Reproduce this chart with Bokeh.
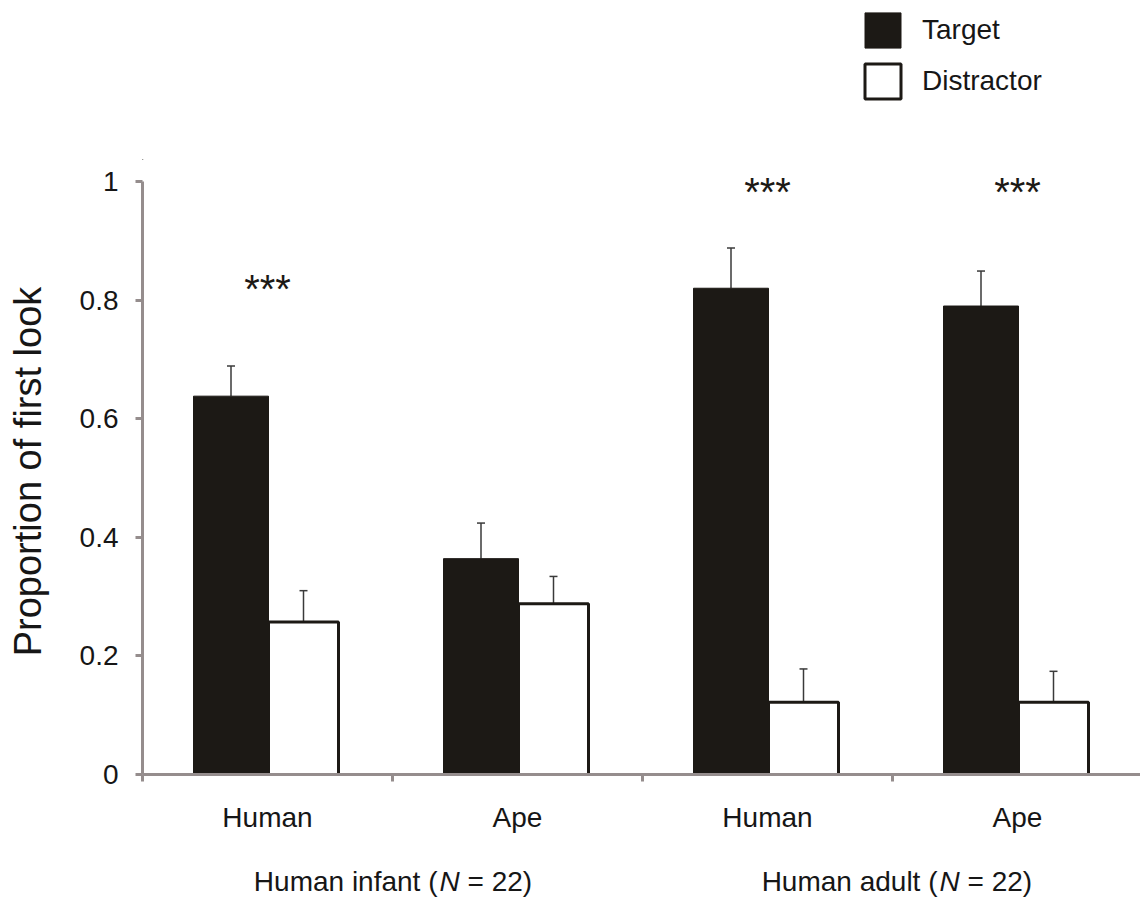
import numpy as np
from bokeh.plotting import figure
from bokeh.layouts import column
from bokeh.models import (ColumnDataSource, Range1d, FixedTicker, Whisker, TeeHead,
                          Legend, LegendItem, LinearAxis)
from bokeh.core.properties import value
from bokeh.embed import file_html
from bokeh.resources import INLINE

# ---------------- data ----------------
stimuli = ["Human", "Ape", "Human", "Ape"]
groups = ["Human infant", "Human adult"]
group_n = [22, 22]
target = [0.638, 0.364, 0.820, 0.790]
target_se = [0.051, 0.060, 0.068, 0.059]
distractor = [0.257, 0.288, 0.122, 0.122]
distractor_se = [0.053, 0.046, 0.056, 0.052]
significance = ["***", "", "***", "***"]
sig_level = [0.818, 0.0, 0.982, 0.982]
series = ["Target", "Distractor"]
y_ticks = [0, 0.2, 0.4, 0.6, 0.8, 1]
y_tick_labels = ["0", "0.2", "0.4", "0.6", "0.8", "1"]

# ---------------- style ----------------
FONT = "Liberation Sans"
GRAY = "#958d8d"
INK = "#1c1915"
TEXT = "#161616"
ERR = "#3a3a3a"

n = len(stimuli)
centers = np.arange(n) + 0.5
per_group = n // len(groups)


def bare(fig):
    fig.grid.visible = False
    fig.outline_line_color = None
    fig.background_fill_color = "white"
    return fig


# ---------------- top strip with legend ----------------
p_top = bare(figure(width=1140, height=160, output_backend="svg", toolbar_location=None,
                    x_range=Range1d(0, 1), y_range=Range1d(0, 1),
                    min_border_left=142, min_border_right=0, min_border_top=0,
                    min_border_bottom=0, x_axis_location=None, y_axis_location=None))
# off-frame proxies that only carry the legend swatches
proxy = ColumnDataSource(dict(x=[-5.0], top=[-5.0]))
lt = p_top.vbar(x="x", top="top", bottom=-6, width=1, source=proxy,
                fill_color=INK, line_color=INK, line_width=1)
ld = p_top.vbar(x="x", top="top", bottom=-6, width=1, source=proxy,
                fill_color="white", line_color=INK, line_width=3)
legend = Legend(items=[LegendItem(label=series[0], renderers=[lt]),
                       LegendItem(label=series[1], renderers=[ld])],
                location=(718, 57), orientation="vertical", padding=0, margin=0,
                spacing=7, glyph_width=45, glyph_height=44, label_height=44,
                label_standoff=17, label_text_font=FONT, label_text_font_size="28px",
                label_text_color=TEXT, border_line_color=None,
                background_fill_alpha=0)
p_top.add_layout(legend)

# ---------------- main plot ----------------
x_range = Range1d(0, 3.992)
p = bare(figure(width=1140, height=690, output_backend="svg", toolbar_location=None,
                x_range=x_range, y_range=Range1d(0, 606 / 593),
                min_border_left=142, min_border_right=0, min_border_top=8,
                min_border_bottom=76, x_axis_location=None, y_axis_location=None))

yax = LinearAxis(
    ticker=FixedTicker(ticks=y_ticks),
    major_label_overrides={float(t): l for t, l in zip(y_ticks, y_tick_labels)},
    bounds=(0, 1),
    axis_line_color=GRAY, axis_line_width=3,
    major_tick_line_color=GRAY, major_tick_line_width=3,
    major_tick_out=7, major_tick_in=0, minor_tick_line_color=None,
    major_label_text_font=FONT, major_label_text_font_size="28px",
    major_label_text_color=TEXT, major_label_standoff=17,
    axis_label="Proportion of first look", axis_label_text_font=FONT,
    axis_label_text_font_size="38px", axis_label_text_font_style="normal",
    axis_label_text_color=TEXT, axis_label_standoff=28)
p.add_layout(yax, "left")

xax = LinearAxis(
    ticker=FixedTicker(ticks=[float(c) for c in centers],
                       minor_ticks=[float(i) for i in range(n)]),
    major_label_overrides={float(c): s for c, s in zip(centers, stimuli)},
    axis_line_color=GRAY, axis_line_width=3,
    major_tick_line_color=None, major_tick_out=0, major_tick_in=0,
    minor_tick_line_color=GRAY, minor_tick_line_width=3,
    minor_tick_out=7, minor_tick_in=0,
    major_label_text_font=FONT, major_label_text_font_size="28px",
    major_label_text_color=TEXT, major_label_standoff=20)
p.add_layout(xax, "below")

src = ColumnDataSource(dict(
    xt=centers - 0.146, xd=centers + 0.144,
    target=target, tu=np.array(target) + np.array(target_se),
    distractor=distractor,
    dl=np.array(distractor) - np.array(distractor_se),
    du=np.array(distractor) + np.array(distractor_se)))

p.vbar(x="xt", top="target", bottom=0, width=0.30, source=src,
       fill_color=INK, line_color=INK, line_width=1)
p.vbar(x="xd", top="distractor", bottom=0, width=0.28, source=src,
       fill_color="white", line_color=INK, line_width=3)

p.add_layout(Whisker(source=src, base="xt", lower="target", upper="tu",
                     dimension="height", line_color=ERR, line_width=1.5,
                     upper_head=TeeHead(size=8, line_color=ERR, line_width=1.5),
                     lower_head=None))
p.add_layout(Whisker(source=src, base="xd", lower="dl", upper="du",
                     dimension="height", line_color=ERR, line_width=1.5,
                     upper_head=TeeHead(size=8, line_color=ERR, line_width=1.5),
                     lower_head=TeeHead(size=8, line_color=ERR, line_width=1.5)))

idx = [i for i, s in enumerate(significance) if s]
ssrc = ColumnDataSource(dict(x=[float(centers[i]) for i in idx],
                             y=[sig_level[i] for i in idx],
                             text=[significance[i] for i in idx]))
p.text(x="x", y="y", text="text", source=ssrc, text_font=value(FONT),
       text_font_size="40px", text_align="center", text_baseline="alphabetic",
       text_color=INK)

# ---------------- bottom strip with group labels ----------------
p_bot = bare(figure(width=1140, height=54, output_backend="svg", toolbar_location=None,
                    x_range=x_range, y_range=Range1d(0, 54),
                    min_border_left=142, min_border_right=0, min_border_top=0,
                    min_border_bottom=0, x_axis_location=None, y_axis_location=None))
gsrc = ColumnDataSource(dict(
    x=[float(gi * per_group + per_group / 2) for gi in range(len(groups))],
    y=[23.5] * len(groups),
    pre=[f"{g} (" for g in groups],
    ital=["N"] * len(groups),
    post=[f"= {nv})" for nv in group_n]))
common = dict(x="x", y="y", source=gsrc, text_font=value(FONT), text_font_size="28px",
              text_color=TEXT, text_baseline="middle")
p_bot.text(text="pre", text_align="right", x_offset=45, **common)
p_bot.text(text="ital", text_align="center", x_offset=57,
           text_font_style="italic", **common)
p_bot.text(text="post", text_align="left", x_offset=75, **common)

layout = column(p_top, p, p_bot, spacing=0)
open("out.html", "w").write(file_html(layout, INLINE))
